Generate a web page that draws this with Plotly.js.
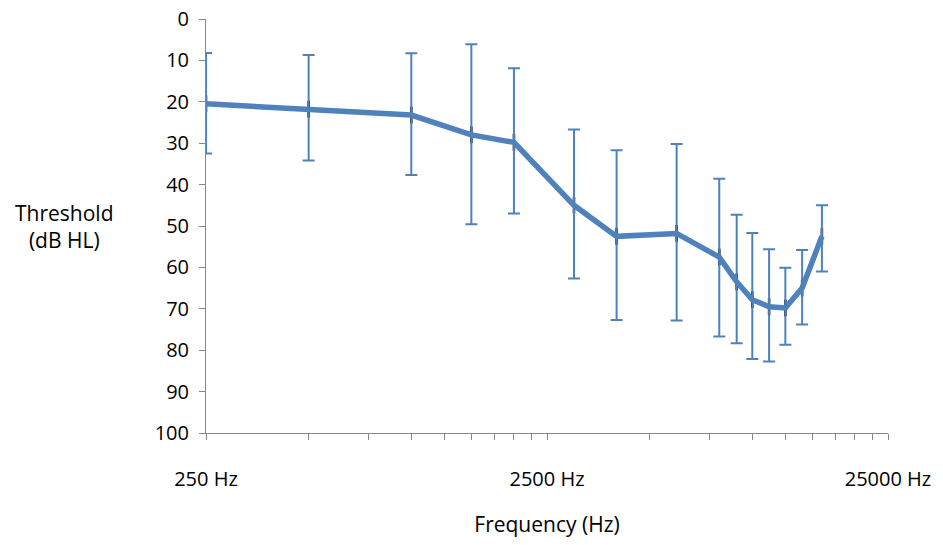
<!DOCTYPE html>
<html>
<head>
<meta charset="utf-8">
<script src="https://cdn.plot.ly/plotly-3.0.1.min.js"></script>
<style>html,body{margin:0;padding:0;background:#fff;}#chart{width:943px;height:545px;}</style>
</head>
<body>
<div id="chart"></div>
<script>
// Frequencies (Hz)
var frequencies = [250, 500, 1000, 1500, 2000, 3000, 4000, 6000, 8000, 9000, 10000, 11200, 12500, 14000, 16000];
// Mean threshold (dB HL)
var meanThreshold = [20.5, 21.8, 23.2, 28, 29.8, 45, 52.5, 51.8, 57.5, 63.5, 67.8, 69.5, 69.8, 65, 52.5];
// Error bar ends (dB HL): upper (smaller value) and lower (larger value)
var barTop = [8.2, 8.7, 8.3, 6.1, 11.9, 26.7, 31.7, 30.2, 38.6, 47.3, 51.7, 55.6, 60.1, 55.8, 45.0];
var barBottom = [32.5, 34.2, 37.7, 49.6, 47.0, 62.7, 72.7, 72.8, 76.7, 78.3, 82.1, 82.7, 78.7, 73.8, 61.0];
// Tick labels
var xTickVals = [250, 2500, 25000];
var xTickText = ["250 Hz", "2500 Hz", "25000 Hz"];
var xMinorVals = [500, 750, 1000, 1250, 1500, 1750, 2000, 2250, 5000, 7500, 10000, 12500, 15000, 17500, 20000, 22500];
var yTickVals = [0, 10, 20, 30, 40, 50, 60, 70, 80, 90, 100];

var errPlus = meanThreshold.map(function (m, i) { return barBottom[i] - m; });
var errMinus = meanThreshold.map(function (m, i) { return m - barTop[i]; });

var blue = '#4f81bd';
var font = 'Open Sans, sans-serif';

var traces = [
  {
    x: frequencies, y: meanThreshold, type: 'scatter', mode: 'markers',
    marker: {symbol: 'line-ns-open', size: 12, color: '#000', line: {color: '#000', width: 2.5}},
    hoverinfo: 'skip', showlegend: false
  },
  {
    x: frequencies, y: meanThreshold, type: 'scatter', mode: 'lines',
    line: {color: blue, width: 5.5},
    error_y: {type: 'data', symmetric: false, array: errPlus, arrayminus: errMinus,
              color: blue, thickness: 2, width: 6},
    showlegend: false
  }
];

var layout = {
  width: 943, height: 545,
  margin: {l: 206, r: 55, t: 19, b: 112},
  paper_bgcolor: '#fff', plot_bgcolor: '#fff',
  font: {family: font, color: '#000', size: 20},
  xaxis: {
    type: 'log',
    range: [Math.log10(250), Math.log10(25000)],
    tickmode: 'array', tickvals: xTickVals, ticktext: xTickText,
    ticks: 'outside', ticklen: 6, tickcolor: '#878787', tickwidth: 1,
    ticklabelstandoff: 22,
    minor: {tickmode: 'array', tickvals: xMinorVals, ticks: 'outside', ticklen: 6, tickcolor: '#878787', showgrid: false},
    showline: true, linecolor: '#878787', linewidth: 1,
    showgrid: false, zeroline: false,
    tickfont: {family: font, size: 20, color: '#000'},
    title: {text: 'Frequency (Hz)', font: {family: font, size: 21, color: '#000'}, standoff: 26}
  },
  yaxis: {
    range: [100, 0],
    tickmode: 'array', tickvals: yTickVals,
    ticks: 'outside', ticklen: 6, tickcolor: '#878787', tickwidth: 1,
    ticklabelstandoff: 6,
    showline: true, linecolor: '#878787', linewidth: 1,
    showgrid: false, zeroline: false,
    tickfont: {family: font, size: 20, color: '#000'}
  },
  annotations: [{
    text: 'Threshold<br>(dB HL)', xref: 'paper', yref: 'paper',
    x: -0.207, y: 0.5, xanchor: 'center', yanchor: 'middle', showarrow: false,
    font: {family: font, size: 21, color: '#000'}, align: 'center'
  }]
};

Plotly.newPlot('chart', traces, layout, {displayModeBar: false, staticPlot: true});
</script>
</body>
</html>
